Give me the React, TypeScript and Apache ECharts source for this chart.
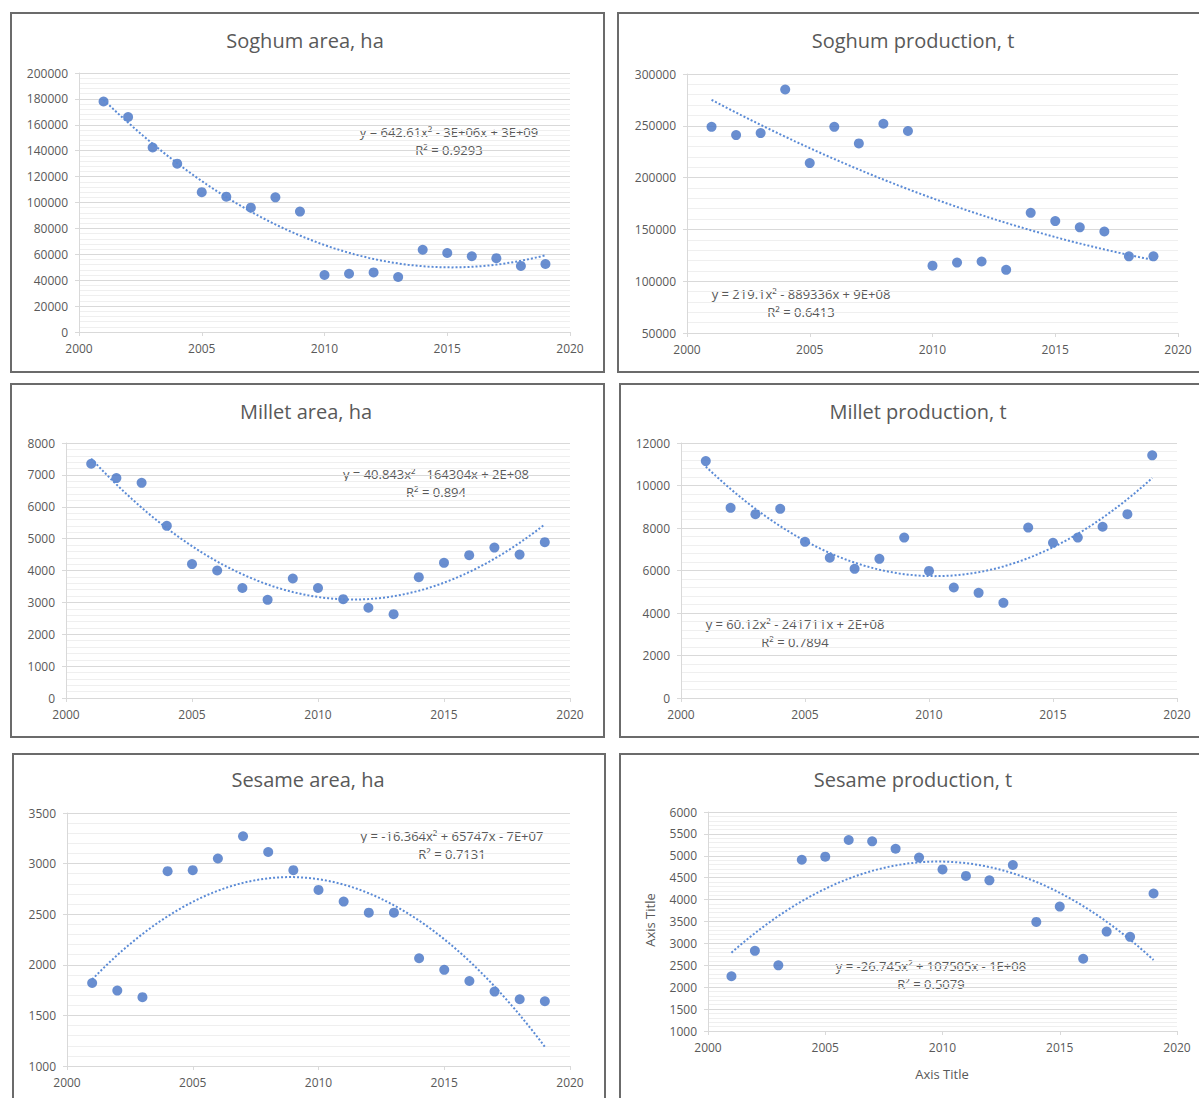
import React, { useEffect, useRef } from "react";
import * as echarts from "echarts";

const years = [2001, 2002, 2003, 2004, 2005, 2006, 2007, 2008, 2009, 2010, 2011, 2012, 2013, 2014, 2015, 2016, 2017, 2018, 2019];

const sorghumArea = [178000, 166000, 142500, 130000, 108000, 104500, 96000, 104000, 93000, 44000, 45000, 46000, 42500, 63500, 61000, 58500, 57000, 51000, 52500];
const sorghumProd = [249000, 241000, 243000, 285000, 214000, 249000, 233000, 252000, 245000, 115000, 118000, 119000, 111000, 166000, 158000, 152000, 148000, 124000, 124000];
const milletArea = [7350, 6900, 6750, 5400, 4200, 4000, 3450, 3080, 3750, 3450, 3100, 2830, 2630, 3790, 4240, 4480, 4720, 4500, 4890];
const milletProd = [11150, 8950, 8650, 8900, 7350, 6600, 6080, 6550, 7550, 5980, 5200, 4950, 4480, 8020, 7300, 7550, 8060, 8650, 11420];
const sesameArea = [1820, 1745, 1680, 2925, 2935, 3050, 3270, 3115, 2935, 2740, 2625, 2515, 2515, 2065, 1950, 1840, 1735, 1660, 1640];
const sesameProd = [2250, 2830, 2500, 4910, 4980, 5360, 5330, 5160, 4960, 4690, 4540, 4440, 4790, 3490, 3840, 2650, 3270, 3150, 4140];

const titles = ["Soghum area, ha", "Soghum production, t", "Millet area, ha", "Millet production, t", "Sesame area, ha", "Sesame production, t"];
const equations = [
  "y = 642.61x² - 3E+06x + 3E+09",
  "y = 219.1x² - 889336x + 9E+08",
  "y = 40.843x² - 164304x + 2E+08",
  "y = 60.12x² - 241711x + 2E+08",
  "y = -16.364x² + 65747x - 7E+07",
  "y = -26.745x² + 107505x - 1E+08",
];
const rSquared = ["R² = 0.9293", "R² = 0.6413", "R² = 0.894", "R² = 0.7894", "R² = 0.7131", "R² = 0.5079"];
const yMins = [0, 50000, 0, 0, 1000, 1000];
const yMaxs = [200000, 300000, 8000, 12000, 3500, 6000];
const yIntervals = [20000, 50000, 1000, 2000, 500, 500];
const xMin = 2000;
const xMax = 2020;
const xInterval = 5;
const axisTitle = "Axis Title";

const seriesValues = [sorghumArea, sorghumProd, milletArea, milletProd, sesameArea, sesameProd];

// layout (pixels)
const grids = [
  { left: 79, top: 73, width: 491, height: 259 },
  { left: 687, top: 74, width: 491, height: 259 },
  { left: 66, top: 443, width: 504, height: 255 },
  { left: 681, top: 443, width: 496, height: 255 },
  { left: 67, top: 813, width: 503, height: 253 },
  { left: 708, top: 812, width: 469, height: 219 },
];
const panels = [
  { x: 11, y: 13, w: 593, h: 359 },
  { x: 618, y: 13, w: 600, h: 359 },
  { x: 11, y: 384, w: 593, h: 353 },
  { x: 620, y: 384, w: 600, h: 353 },
  { x: 13, y: 754, w: 592, h: 360 },
  { x: 620, y: 754, w: 600, h: 360 },
];
const titlePos = [
  [305, 40], [913, 40], [306, 411], [918, 411], [308, 779], [913, 779],
];
const eqPos = [
  [449, 132], [801, 294], [436, 474], [795, 624], [452, 836], [931, 966],
];

const FONT = "'Open Sans', 'Liberation Sans', sans-serif";
const TEXT = "#595959";
const BLUE = "#4472C4";

function quadFit(xs: number[], ys: number[]) {
  // least-squares polynomial of order 2, centred on 2010 for stability
  const c = 2010;
  let s0 = 0, s1 = 0, s2 = 0, s3 = 0, s4 = 0, t0 = 0, t1 = 0, t2 = 0;
  for (let i = 0; i < xs.length; i++) {
    const t = xs[i] - c;
    const y = ys[i];
    s0 += 1; s1 += t; s2 += t * t; s3 += t * t * t; s4 += t * t * t * t;
    t0 += y; t1 += y * t; t2 += y * t * t;
  }
  const A = [
    [s0, s1, s2, t0],
    [s1, s2, s3, t1],
    [s2, s3, s4, t2],
  ];
  for (let i = 0; i < 3; i++) {
    for (let j = i + 1; j < 3; j++) {
      const f = A[j][i] / A[i][i];
      for (let k = i; k < 4; k++) A[j][k] -= f * A[i][k];
    }
  }
  const b = [0, 0, 0];
  for (let i = 2; i >= 0; i--) {
    let s = A[i][3];
    for (let k = i + 1; k < 3; k++) s -= A[i][k] * b[k];
    b[i] = s / A[i][i];
  }
  const pts: number[][] = [];
  const x0 = xs[0];
  const x1 = xs[xs.length - 1];
  const n = 90;
  for (let i = 0; i <= n; i++) {
    const x = x0 + ((x1 - x0) * i) / n;
    const t = x - c;
    pts.push([x, b[0] + b[1] * t + b[2] * t * t]);
  }
  return pts;
}

const plain = (v: number) => String(v);

export default function App() {
  const ref = useRef<HTMLDivElement>(null);
  useEffect(() => {
    if (!ref.current) return;
    const chart = echarts.init(ref.current, undefined, { renderer: "svg" });

    const xAxis = grids.map((_, i) => ({
      type: "value",
      gridIndex: i,
      min: xMin,
      max: xMax,
      interval: xInterval,
      axisLine: { show: true, onZero: false, lineStyle: { color: "#d9d9d9", width: 1 } },
      axisTick: { show: true, length: 4, lineStyle: { color: "#d9d9d9" } },
      axisLabel: { color: TEXT, fontSize: 12, fontFamily: FONT, margin: 10, formatter: plain },
      splitLine: { show: false },
    }));
    const yAxis = grids.map((_, i) => ({
      type: "value",
      gridIndex: i,
      min: yMins[i],
      max: yMaxs[i],
      interval: yIntervals[i],
      axisLine: { show: true, onZero: false, lineStyle: { color: "#d9d9d9", width: 1 } },
      axisTick: { show: true, length: 4, lineStyle: { color: "#d9d9d9" } },
      axisLabel: { color: TEXT, fontSize: 12, fontFamily: FONT, margin: 11, formatter: plain },
      splitLine: { show: true, lineStyle: { color: "#d9d9d9", width: 1 } },
      minorTick: { show: false, splitNumber: 5 },
      minorSplitLine: { show: true, lineStyle: { color: "#efefef", width: 1 } },
    }));

    const series: any[] = [];
    seriesValues.forEach((vals, i) => {
      series.push({
        type: "line",
        xAxisIndex: i,
        yAxisIndex: i,
        data: quadFit(years, vals),
        showSymbol: false,
        symbol: "none",
        smooth: false,
        silent: true,
        lineStyle: { color: "#5B8BD6", width: 2, type: [2, 2] },
        z: 3,
      });
      series.push({
        type: "scatter",
        xAxisIndex: i,
        yAxisIndex: i,
        data: years.map((y, k) => [y, vals[k]]),
        symbol: "circle",
        symbolSize: 10,
        itemStyle: { color: BLUE },
        z: 2,
      });
    });

    const graphic: any[] = [];
    panels.forEach((p) => {
      graphic.push({
        type: "rect",
        shape: { x: p.x, y: p.y, width: p.w, height: p.h },
        style: { fill: "none", stroke: "#6b6b6b", lineWidth: 2 },
        silent: true,
      });
    });
    titles.forEach((t, i) => {
      graphic.push({
        type: "text",
        x: titlePos[i][0],
        y: titlePos[i][1],
        style: { text: t, fill: TEXT, font: `20px ${FONT}`, align: "center", verticalAlign: "middle" },
      });
      graphic.push({
        type: "text",
        x: eqPos[i][0],
        y: eqPos[i][1],
        style: { text: equations[i], fill: TEXT, font: `13px ${FONT}`, align: "center", verticalAlign: "middle" },
      });
      graphic.push({
        type: "text",
        x: eqPos[i][0],
        y: eqPos[i][1] + 18,
        style: { text: rSquared[i], fill: TEXT, font: `13px ${FONT}`, align: "center", verticalAlign: "middle" },
      });
    });
    graphic.push({
      type: "text",
      x: 650,
      y: 920,
      rotation: Math.PI / 2,
      style: { text: axisTitle, fill: TEXT, font: `13px ${FONT}`, align: "center", verticalAlign: "middle" },
    });
    graphic.push({
      type: "text",
      x: 942,
      y: 1074,
      style: { text: axisTitle, fill: TEXT, font: `13px ${FONT}`, align: "center", verticalAlign: "middle" },
    });

    chart.setOption({
      animation: false,
      backgroundColor: "#ffffff",
      grid: grids.map((g) => ({ ...g, containLabel: false })),
      xAxis,
      yAxis,
      series,
      graphic,
    });
    return () => chart.dispose();
  }, []);
  return (
    <div
      ref={ref}
      style={{ position: "fixed", left: 0, top: 0, width: 1199, height: 1098 }}
    />
  );
}
